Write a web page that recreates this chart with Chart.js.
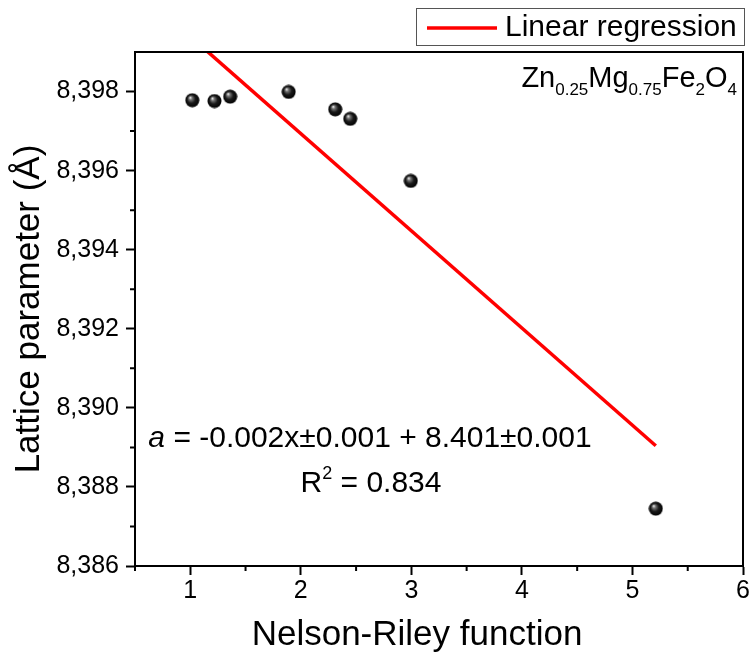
<!DOCTYPE html>
<html>
<head>
<meta charset="utf-8">
<script src="https://cdn.jsdelivr.net/npm/chart.js@4/dist/chart.umd.min.js"></script>
<style>
  html, body { margin: 0; padding: 0; background: #fff; }
  #wrap { width: 751px; height: 654px; }
</style>
</head>
<body>
<div id="wrap"><canvas id="chart" width="751" height="654"></canvas></div>
<script>
// Data
const nelsonRiley = [1.018, 1.219, 1.361, 1.890, 2.311, 2.447, 2.995, 5.211];
const latticeA = [8.39778, 8.39776, 8.39787, 8.39799, 8.39755, 8.39731, 8.39574, 8.38745];
const fitX = [1.018, 5.211];
const fitA = [8.39935, 8.38904];

const xTicks = [1, 2, 3, 4, 5, 6];
const xMinor = [0.5, 1.5, 2.5, 3.5, 4.5, 5.5];
const yTicks = [8.386, 8.388, 8.390, 8.392, 8.394, 8.396, 8.398];
const yMinor = [8.387, 8.389, 8.391, 8.393, 8.395, 8.397];

const FONT = "'Liberation Sans', Arial, sans-serif";

// shiny black ball used as the marker
const ball = document.createElement('canvas');
ball.width = 15; ball.height = 15;
(function() {
    const c = ball.getContext('2d');
    const g = c.createRadialGradient(5.3, 4.8, 0.3, 7.5, 7.5, 7.2);
    g.addColorStop(0, '#f0f0f0');
    g.addColorStop(0.2, '#777');
    g.addColorStop(0.55, '#1a1a1a');
    g.addColorStop(1, '#000');
    c.fillStyle = g;
    c.beginPath();
    c.arc(7.5, 7.5, 7, 0, Math.PI * 2);
    c.fill();
})();

// text with sub/superscripts: parts = [[text, 'n'|'sub'|'sup'|'it'], ...]
function fontFor(kind, size) {
    if (kind === 'sub' || kind === 'sup') return Math.round(size * 0.6) + 'px ' + FONT;
    if (kind === 'it') return 'italic ' + size + 'px ' + FONT;
    return size + 'px ' + FONT;
}
function richWidth(ctx, parts, size) {
    let w = 0;
    parts.forEach(p => {
        ctx.font = fontFor(p[1], size);
        w += ctx.measureText(p[0]).width;
    });
    return w;
}
function drawRich(ctx, parts, x, y, size) {
    ctx.textBaseline = 'alphabetic';
    ctx.textAlign = 'left';
    parts.forEach(p => {
        ctx.font = fontFor(p[1], size);
        let dy = 0;
        if (p[1] === 'sub') dy = size * 0.28;
        if (p[1] === 'sup') dy = -size * 0.42;
        ctx.fillText(p[0], x, y + dy);
        x += ctx.measureText(p[0]).width;
    });
}

const extras = {
    id: 'extras',
    afterDraw(chart) {
        const ctx = chart.ctx;
        const a = chart.chartArea;
        const xs = chart.scales.x, ys = chart.scales.y;
        ctx.save();
        ctx.strokeStyle = '#000';
        ctx.lineWidth = 2;
        // frame
        ctx.strokeRect(a.left, a.top, a.right - a.left, a.bottom - a.top);
        // minor ticks
        ctx.beginPath();
        xMinor.forEach(v => {
            const px = xs.getPixelForValue(v);
            ctx.moveTo(px, a.bottom);
            ctx.lineTo(px, a.bottom + 5);
        });
        yMinor.forEach(v => {
            const py = ys.getPixelForValue(v);
            ctx.moveTo(a.left, py);
            ctx.lineTo(a.left - 5, py);
        });
        ctx.stroke();

        ctx.fillStyle = '#000';
        // x axis title
        ctx.font = '35px ' + FONT;
        ctx.textAlign = 'center';
        ctx.textBaseline = 'alphabetic';
        ctx.fillText('Nelson-Riley function', 417, 645);

        // compound label
        const zn = [['Zn', 'n'], ['0.25', 'sub'], ['Mg', 'n'], ['0.75', 'sub'], ['Fe', 'n'], ['2', 'sub'], ['O', 'n'], ['4', 'sub']];
        const zw = richWidth(ctx, zn, 29);
        drawRich(ctx, zn, a.right - 6 - zw, 87, 29);

        // fit equation
        const eq = [['a', 'it'], [' = -0.002x\u00b10.001 + 8.401\u00b10.001', 'n']];
        const ew = richWidth(ctx, eq, 30);
        drawRich(ctx, eq, 370 - ew / 2, 447, 30);
        const r2 = [['R', 'n'], ['2', 'sup'], [' = 0.834', 'n']];
        const rw = richWidth(ctx, r2, 30);
        drawRich(ctx, r2, 371 - rw / 2, 492, 30);

        // legend box
        ctx.strokeStyle = '#555';
        ctx.lineWidth = 1;
        ctx.strokeRect(416.5, 8.5, 328, 37);
        ctx.strokeStyle = '#ff0000';
        ctx.lineWidth = 3.5;
        ctx.beginPath();
        ctx.moveTo(427, 28);
        ctx.lineTo(497, 28);
        ctx.stroke();
        ctx.font = '30px ' + FONT;
        ctx.textAlign = 'left';
        ctx.textBaseline = 'middle';
        ctx.fillText('Linear regression', 505, 28);
        ctx.restore();
    }
};

new Chart(document.getElementById('chart'), {
    type: 'scatter',
    data: {
        datasets: [{
            label: 'Lattice parameter',
            data: nelsonRiley.map((x, i) => ({ x: x, y: latticeA[i] })),
            pointStyle: ball,
            pointRadius: 7,
            order: 1
        }, {
            label: 'Linear regression',
            data: fitX.map((x, i) => ({ x: x, y: fitA[i] })),
            showLine: true,
            borderColor: '#ff0000',
            borderWidth: 3.5,
            pointRadius: 0,
            clip: 0,
            order: 2
        }]
    },
    options: {
        responsive: false,
        animation: false,
        layout: { padding: { top: 52, right: 7, left: 0, bottom: 0 } },
        plugins: { legend: { display: false }, tooltip: { enabled: false } },
        scales: {
            x: {
                type: 'linear',
                min: 0.5,
                max: 6,
                afterBuildTicks: s => { s.ticks = xTicks.map(v => ({ value: v })); },
                afterFit: s => { s.height = 88; },
                ticks: {
                    color: '#000',
                    font: { family: FONT, size: 25 },
                    padding: 1,
                    maxRotation: 0,
                    callback: v => String(v)
                },
                grid: { drawOnChartArea: false, tickLength: 9, tickColor: '#000', tickWidth: 2 },
                border: { display: true, color: '#000', width: 2 },
                title: { display: false }
            },
            y: {
                type: 'linear',
                min: 8.386,
                max: 8.399,
                afterBuildTicks: s => { s.ticks = yTicks.map(v => ({ value: v })); },
                afterFit: s => { s.width = 135; },
                ticks: {
                    color: '#000',
                    font: { family: FONT, size: 25 },
                    padding: 7,
                    callback: v => v.toFixed(3).replace('.', ',')
                },
                grid: { drawOnChartArea: false, tickLength: 9, tickColor: '#000', tickWidth: 2 },
                border: { display: true, color: '#000', width: 2 },
                title: {
                    display: true,
                    text: 'Lattice parameter (\u00c5)',
                    color: '#000',
                    font: { family: FONT, size: 35 },
                    padding: { top: 8, bottom: 0 }
                }
            }
        }
    },
    plugins: [extras]
});
</script>
</body>
</html>
